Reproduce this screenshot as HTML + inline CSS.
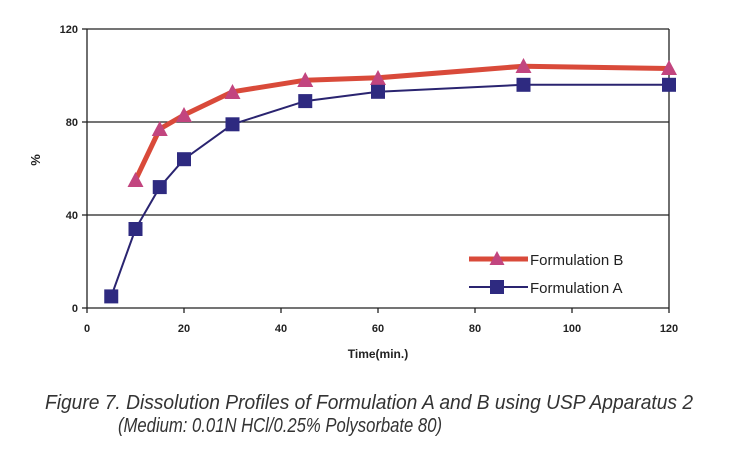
<!DOCTYPE html>
<html><head><meta charset="utf-8"><style>body{margin:0;background:#fff}svg{display:block}</style></head>
<body>
<svg width="749" height="455" xmlns="http://www.w3.org/2000/svg" font-family="Liberation Sans, sans-serif">
<rect width="749" height="455" fill="#fff"/>
<g stroke="#222" stroke-width="1.3" fill="none">
<line x1="87" y1="29" x2="669" y2="29"/>
<line x1="87" y1="122" x2="669" y2="122"/>
<line x1="87" y1="215" x2="669" y2="215"/>
<line x1="669" y1="29" x2="669" y2="308"/>
<line x1="87" y1="29" x2="87" y2="308"/>
<line x1="87" y1="308" x2="669" y2="308"/>
<line x1="82" y1="29" x2="87" y2="29"/><line x1="82" y1="122" x2="87" y2="122"/><line x1="82" y1="215" x2="87" y2="215"/><line x1="82" y1="308" x2="87" y2="308"/>
<line x1="87" y1="308" x2="87" y2="313"/><line x1="184" y1="308" x2="184" y2="313"/><line x1="281" y1="308" x2="281" y2="313"/><line x1="378" y1="308" x2="378" y2="313"/><line x1="475" y1="308" x2="475" y2="313"/><line x1="572" y1="308" x2="572" y2="313"/><line x1="669" y1="308" x2="669" y2="313"/>
</g>
<g font-size="11" font-weight="bold" fill="#222" text-anchor="end">
<text x="78" y="33">120</text><text x="78" y="126">80</text><text x="78" y="219">40</text><text x="78" y="312">0</text>
</g>
<g font-size="11" font-weight="bold" fill="#222" text-anchor="middle">
<text x="87" y="332">0</text><text x="184" y="332">20</text><text x="281" y="332">40</text><text x="378" y="332">60</text><text x="475" y="332">80</text><text x="572" y="332">100</text><text x="669" y="332">120</text>
<text x="378" y="358" font-size="12">Time(min.)</text>
<text transform="translate(40,160) rotate(-90)" font-size="13">%</text>
</g>
<polyline fill="none" stroke="#d94a3a" stroke-width="5" stroke-linejoin="round" points="135.5,180.1 159.75,129 184,115 232.5,91.8 305.25,80.2 378,77.8 523.5,66.2 669,68.5"/>
<g fill="#c2457f">
<polygon points="135.5,172 127.5,187 143.5,187"/><polygon points="159.75,121 151.75,136 167.75,136"/><polygon points="184,107 176,122 192,122"/><polygon points="232.5,84 224.5,99 240.5,99"/><polygon points="305.25,72 297.25,87 313.25,87"/><polygon points="378,70 370,85 386,85"/><polygon points="523.5,58 515.5,73 531.5,73"/><polygon points="669,60 661,75 677,75"/>
</g>
<polyline fill="none" stroke="#2a2470" stroke-width="2" points="111.25,296.4 135.5,229 159.75,187.1 184,159.2 232.5,124.3 305.25,101.1 378,91.8 523.5,84.8 669,84.8"/>
<g fill="#2e2a80">
<rect x="104.25" y="289.4" width="14" height="14"/><rect x="128.5" y="222" width="14" height="14"/><rect x="152.75" y="180.1" width="14" height="14"/><rect x="177" y="152.2" width="14" height="14"/><rect x="225.5" y="117.3" width="14" height="14"/><rect x="298.25" y="94.1" width="14" height="14"/><rect x="371" y="84.8" width="14" height="14"/><rect x="516.5" y="77.8" width="14" height="14"/><rect x="662" y="77.8" width="14" height="14"/>
</g>
<line x1="469" y1="259" x2="528" y2="259" stroke="#d94a3a" stroke-width="5"/>
<polygon points="497,251 489.5,265 504.5,265" fill="#c2457f"/>
<line x1="469" y1="287" x2="528" y2="287" stroke="#2a2470" stroke-width="2"/>
<rect x="490" y="280" width="14" height="14" fill="#2e2a80"/>
<g font-size="15" fill="#222"><text x="530" y="265">Formulation B</text><text x="530" y="293">Formulation A</text></g>
<g font-size="20" font-style="italic" fill="#333">
<text x="45" y="409" textLength="648" lengthAdjust="spacingAndGlyphs">Figure 7. Dissolution Profiles of Formulation A and B using USP Apparatus 2</text>
<text x="118" y="432" textLength="324" lengthAdjust="spacingAndGlyphs">(Medium: 0.01N HCl/0.25% Polysorbate 80)</text>
</g>
</svg>
</body></html>
